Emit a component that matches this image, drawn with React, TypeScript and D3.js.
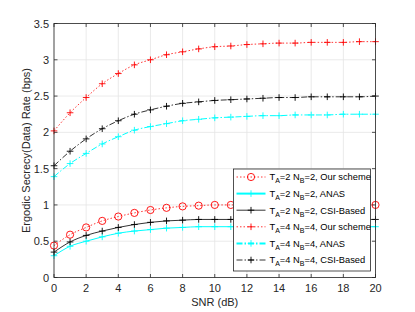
import * as React from "react";
import * as d3 from "d3";

const snr = d3.range(0, 21);
const xTicks = [0, 2, 4, 6, 8, 10, 12, 14, 16, 18, 20];
const yTicks = [0, 0.5, 1, 1.5, 2, 2.5, 3, 3.5];

const ours2 = [0.44, 0.59, 0.69, 0.78, 0.84, 0.89, 0.93, 0.96, 0.98, 0.99, 1.0, 1.0, 1.0, 1.0, 1.0, 1.0, 1.0, 1.0, 1.0, 1.0, 1.0];
const anas2 = [0.3, 0.43, 0.5, 0.56, 0.61, 0.64, 0.66, 0.68, 0.69, 0.7, 0.7, 0.7, 0.7, 0.7, 0.7, 0.7, 0.7, 0.7, 0.7, 0.7, 0.7];
const csi2 = [0.35, 0.49, 0.58, 0.64, 0.69, 0.73, 0.76, 0.78, 0.79, 0.8, 0.8, 0.8, 0.8, 0.8, 0.8, 0.8, 0.8, 0.8, 0.8, 0.8, 0.8];
const ours4 = [2.02, 2.27, 2.48, 2.67, 2.81, 2.93, 3.0, 3.07, 3.11, 3.15, 3.18, 3.19, 3.21, 3.22, 3.23, 3.23, 3.24, 3.24, 3.24, 3.25, 3.25];
const anas4 = [1.39, 1.57, 1.71, 1.84, 1.94, 2.03, 2.08, 2.12, 2.16, 2.18, 2.2, 2.21, 2.22, 2.23, 2.23, 2.24, 2.24, 2.24, 2.25, 2.25, 2.25];
const csi4 = [1.54, 1.74, 1.91, 2.05, 2.16, 2.25, 2.31, 2.36, 2.4, 2.42, 2.44, 2.45, 2.46, 2.47, 2.48, 2.48, 2.49, 2.49, 2.49, 2.49, 2.5];

const series = [
  { ta: "2", nb: "2", name: "Our scheme", values: ours2, color: "#ff0000", dash: "1.5,2", marker: "o", width: 0.8 },
  { ta: "2", nb: "2", name: "ANAS", values: anas2, color: "#00ffff", dash: "", marker: "+", width: 1 },
  { ta: "2", nb: "2", name: "CSI-Based", values: csi2, color: "#000000", dash: "", marker: "+", width: 0.8 },
  { ta: "4", nb: "4", name: "Our scheme", values: ours4, color: "#ff0000", dash: "1.5,2", marker: "+", width: 0.8 },
  { ta: "4", nb: "4", name: "ANAS", values: anas4, color: "#00ffff", dash: "6,2,1.5,2", marker: "+", width: 1 },
  { ta: "4", nb: "4", name: "CSI-Based", values: csi4, color: "#000000", dash: "6,2,1.5,2", marker: "+", width: 0.8 },
];

const W = 415;
const H = 312;
const left = 54;
const right = 375.5;
const top = 23.5;
const bottom = 277.5;
const font = "Liberation Sans, Arial, sans-serif";

function Marker({ x, y, type, color }: { x: number; y: number; type: string; color: string }) {
  if (type === "o") {
    return <circle cx={x} cy={y} r={3.6} fill="none" stroke={color} strokeWidth={0.9} />;
  }
  return (
    <path d={`M${x - 3.3},${y}H${x + 3.3}M${x},${y - 3.3}V${y + 3.3}`} stroke={color} strokeWidth={0.9} />
  );
}

export default function App() {
  const x = d3.scaleLinear().domain([0, 20]).range([left, right]);
  const y = d3.scaleLinear().domain([0, 3.5]).range([bottom, top]);
  const line = d3
    .line<number>()
    .x((_, i) => x(snr[i]))
    .y((v) => y(v))
    .curve(d3.curveMonotoneX);

  const axisColor = "#262626";
  const legX = 233.5;
  const legY = 169;
  const legW = 137;
  const legH = 102;
  const rowH = 16.6;

  return (
    <svg width={W} height={H} style={{ position: "absolute", left: 0, top: 0 }} fontFamily={font}>
      <rect width={W} height={H} fill="#fff" />
      {/* grid */}
      {xTicks.map((t) => (
        <line key={"gx" + t} x1={x(t)} x2={x(t)} y1={top} y2={bottom} stroke="#e5e5e5" strokeWidth={0.8} />
      ))}
      {yTicks.map((t) => (
        <line key={"gy" + t} x1={left} x2={right} y1={y(t)} y2={y(t)} stroke="#e5e5e5" strokeWidth={0.8} />
      ))}
      {/* series */}
      {series.map((s, k) => (
        <g key={k}>
          <path d={line(s.values) || ""} fill="none" stroke={s.color} strokeWidth={s.width} strokeDasharray={s.dash} />
          {s.values.map((v, i) => (
            <Marker key={i} x={x(snr[i])} y={y(v)} type={s.marker} color={s.color} />
          ))}
        </g>
      ))}
      {/* axes box */}
      <rect x={left} y={top} width={right - left} height={bottom - top} fill="none" stroke={axisColor} strokeWidth={0.8} />
      {xTicks.map((t) => (
        <g key={"tx" + t}>
          <line x1={x(t)} x2={x(t)} y1={bottom} y2={bottom - 3.5} stroke={axisColor} strokeWidth={0.8} />
          <line x1={x(t)} x2={x(t)} y1={top} y2={top + 3.5} stroke={axisColor} strokeWidth={0.8} />
          <text x={x(t)} y={bottom + 14} textAnchor="middle" fontSize={11} fill={axisColor}>
            {t}
          </text>
        </g>
      ))}
      {yTicks.map((t) => (
        <g key={"ty" + t}>
          <line x1={left} x2={left + 3.5} y1={y(t)} y2={y(t)} stroke={axisColor} strokeWidth={0.8} />
          <line x1={right} x2={right - 3.5} y1={y(t)} y2={y(t)} stroke={axisColor} strokeWidth={0.8} />
          <text x={left - 5} y={y(t) + 4} textAnchor="end" fontSize={11} fill={axisColor}>
            {t}
          </text>
        </g>
      ))}
      <text x={(left + right) / 2} y={306} textAnchor="middle" fontSize={11} fill={axisColor}>
        SNR (dB)
      </text>
      <text
        transform={`translate(30,${(top + bottom) / 2}) rotate(-90)`}
        textAnchor="middle"
        fontSize={11}
        fill={axisColor}
      >
        Ergodic Secrecy(Data) Rate (bps)
      </text>
      {/* legend */}
      <rect x={legX} y={legY} width={legW} height={legH} fill="#fff" stroke={axisColor} strokeWidth={0.8} />
      {series.map((s, k) => {
        const ry = legY + 8 + k * rowH;
        return (
          <g key={"leg" + k}>
            <line x1={legX + 3} x2={legX + 32} y1={ry} y2={ry} stroke={s.color} strokeWidth={s.color === "#00ffff" ? 2 : s.width} strokeDasharray={s.dash} />
            <Marker x={legX + 17.5} y={ry} type={s.marker} color={s.color} />
            <text x={legX + 36} y={ry + 3.3} fontSize={9.3} fill="#000">
              T<tspan fontSize={7} dy={3}>A</tspan>
              <tspan dy={-3}>={s.ta} N</tspan>
              <tspan fontSize={7} dy={3}>B</tspan>
              <tspan dy={-3}>={s.nb}, {s.name}</tspan>
            </text>
          </g>
        );
      })}
    </svg>
  );
}
